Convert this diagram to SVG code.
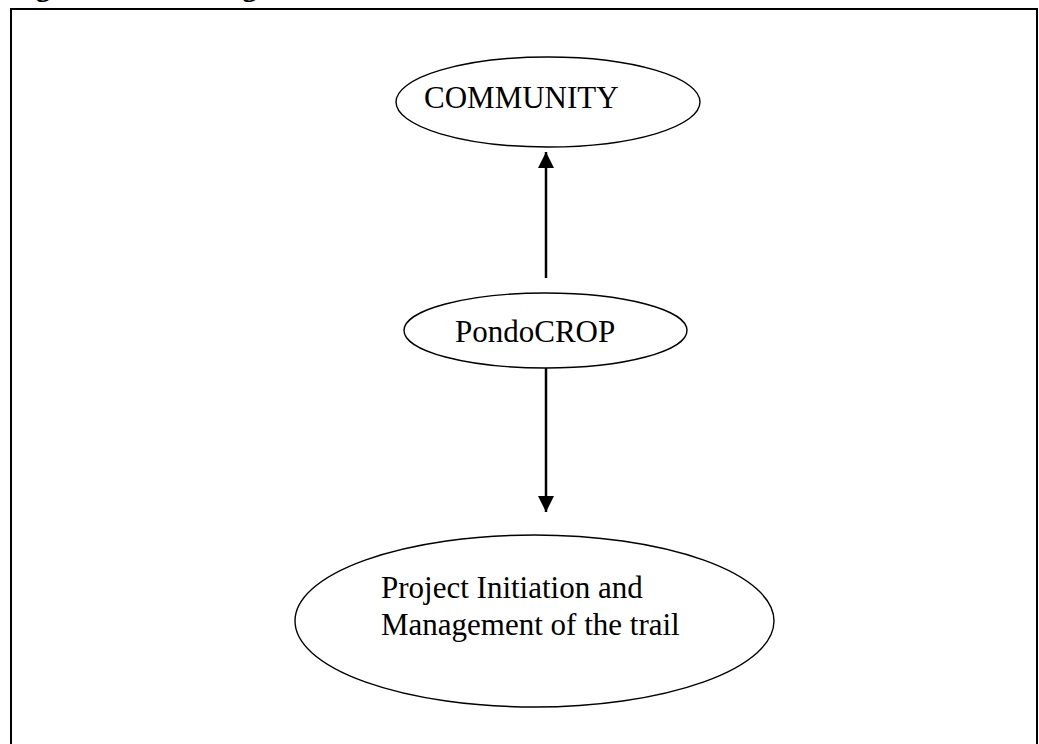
<svg xmlns="http://www.w3.org/2000/svg" width="1039" height="744" viewBox="0 0 1039 744">
<style>
.node{fill:#fff;stroke:#000;stroke-width:1.4}
.lbl{font-family:"Liberation Serif","Times New Roman",serif;font-size:31px;fill:#000}
.ttl{font-family:"Liberation Serif","Times New Roman",serif;font-size:29px;font-weight:bold;fill:#000}
.conn{stroke:#000;stroke-width:2.5;fill:none}
</style>
<defs>
<marker id="ah" viewBox="0 0 16 16" refX="16" refY="8" markerWidth="16" markerHeight="16" markerUnits="userSpaceOnUse" orient="auto">
<path d="M0,0 L16,8 L0,16 Z" fill="#000"/>
</marker>
</defs>
<rect width="1039" height="744" fill="#fff"/>
<text class="ttl" x="10" y="-4">Figure 4: Local Organisational Structure</text>
<rect x="11" y="9" width="1026" height="760" fill="none" stroke="#000" stroke-width="2"/>
<g id="connectors">
<line class="conn" x1="546" y1="278" x2="546" y2="152" marker-end="url(#ah)"/>
<line class="conn" x1="546" y1="368" x2="546" y2="512" marker-end="url(#ah)"/>
</g>
<g id="community">
<ellipse class="node" cx="548" cy="102" rx="152" ry="45"/>
<text class="lbl" x="424" y="108">COMMUNITY</text>
</g>
<g id="pondocrop">
<ellipse class="node" cx="545.5" cy="330.5" rx="141.5" ry="37.5"/>
<text class="lbl" x="455" y="342">PondoCROP</text>
</g>
<g id="project">
<ellipse class="node" cx="534.5" cy="621" rx="239.5" ry="86"/>
<text class="lbl" x="381" y="598">Project Initiation and</text>
<text class="lbl" x="381" y="635">Management of the trail</text>
</g>
</svg>
